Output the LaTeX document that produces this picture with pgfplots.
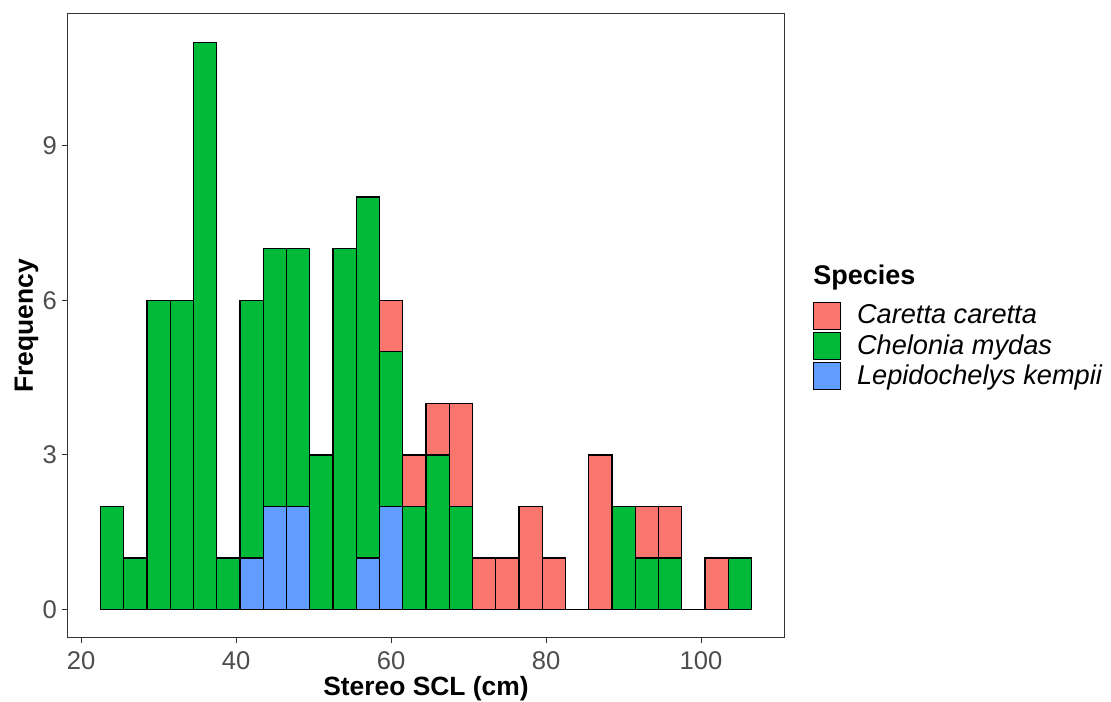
\documentclass[border=0pt]{standalone}
\usepackage{fontspec}
\setmainfont{Liberation Sans}
\usepackage{pgfplots}
\usepackage{pgfplotstable}
\pgfplotsset{compat=1.18}

\definecolor{cc}{HTML}{F8766D}
\definecolor{cm}{HTML}{00BA38}
\definecolor{lk}{HTML}{619CFF}
\definecolor{grey20}{HTML}{333333}
\definecolor{grey30}{HTML}{4D4D4D}

% counts per 3 cm bin (bin centre), one column per species
\pgfplotstableread{
x   lk cm cc
24  0  2  0
27  0  1  0
30  0  6  0
33  0  6  0
36  0  11 0
39  0  1  0
42  1  5  0
45  2  5  0
48  2  5  0
51  0  3  0
54  0  7  0
57  1  7  0
60  2  3  1
63  0  2  1
66  0  3  1
69  0  2  2
72  0  0  1
75  0  0  1
78  0  0  2
81  0  0  1
84  0  0  0
87  0  0  3
90  0  2  0
93  0  1  1
96  0  1  1
99  0  0  0
102 0  0  1
105 0  1  0
}\scl

\pgfplotsset{
  keyimg/.style={legend image code/.code={
    \draw[##1,draw=black,line width=0.7pt] (0pt,-6.75pt) rectangle (13.5pt,6.75pt);}},
  sp/.style={fill=#1, draw=black, line width=0.7pt, keyimg},
}

\begin{document}
\begin{tikzpicture}
\begin{axis}[
    scale only axis,
    width=358pt, height=312pt,
    ybar stacked,
    bar width=3,
    clip mode=individual,
    xmin=18.3, xmax=110.7,
    ymin=-0.55, ymax=11.55,
    xtick={20,40,60,80,100},
    ytick={0,3,6,9},
    xtick pos=left, ytick pos=left,
    tick align=outside,
    major tick length=2.75pt,
    tick style={grey20, line width=0.5pt},
    axis line style={grey20, line width=0.5pt},
    /pgf/number format/assume math mode=true,
    ticklabel style={font=\fontsize{12.8}{14}\selectfont, text=grey30},
    xticklabel style={anchor=north, inner sep=0pt, yshift=-3.7pt},
    yticklabel style={anchor=east, inner sep=0pt, xshift=-2.6pt},
    xlabel={Stereo SCL (cm)},
    ylabel={Frequency},
    label style={font=\fontsize{13.2}{15}\selectfont\bfseries},
    xlabel style={at={(axis description cs:0.5,-0.0929)}, anchor=base, inner sep=0pt},
    ylabel style={at={(axis description cs:-0.0489,0.5)}, anchor=base, inner sep=0pt},
    legend style={at={(axis description cs:1.0405,0.539)}, anchor=north west,
        draw=none, fill=none, inner sep=0pt, outer sep=0pt,
        row sep=0.8pt, column sep=7.8pt,
        font=\fontsize{13.6}{15}\selectfont\itshape,
        nodes={inner sep=0pt}},
    legend cell align=left,
    reverse legend,
]
\addplot[sp=lk] table[x=x, y=lk] {\scl};
\addlegendentry{Lepidochelys kempii}
\addplot[sp=cm] table[x=x, y=cm] {\scl};
\addlegendentry{Chelonia mydas}
\addplot[sp=cc] table[x=x, y=cc] {\scl};
\addlegendentry{Caretta caretta}

% bottom edge of every bin, also the empty ones
\addplot[stack plots=false, sharp plot, draw=black, line width=0.7pt, forget plot]
    coordinates {(22.5,0) (106.5,0)};

\node[anchor=base west, inner sep=0pt, font=\fontsize{13.5}{15}\selectfont\bfseries]
    at (axis description cs:1.0405,0.5657) {Species};
\coordinate (sw) at (axis description cs:0,0);
\coordinate (ne) at (axis description cs:1,1);
\end{axis}
\pgfresetboundingbox
\useasboundingbox ([xshift=-34pt,yshift=-32pt]sw) rectangle ([xshift=163.5pt,yshift=7pt]ne);
\end{tikzpicture}
\end{document}
